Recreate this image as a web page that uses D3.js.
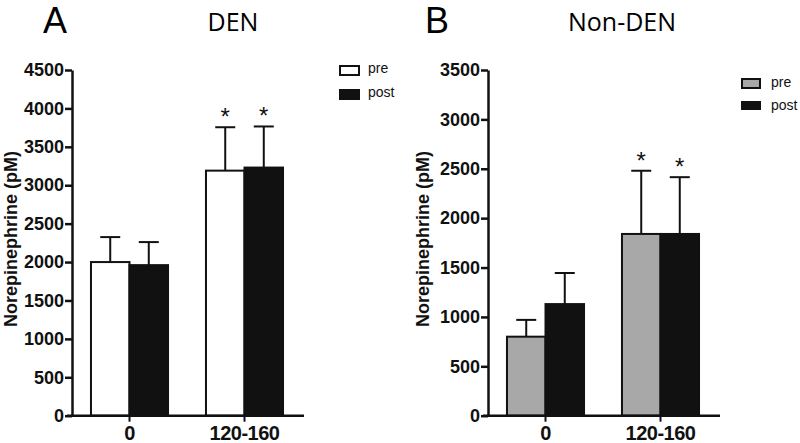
<!DOCTYPE html>
<html>
<head>
<meta charset="utf-8">
<script src="https://cdn.jsdelivr.net/npm/d3@7/dist/d3.min.js"></script>
<style>
  html, body { margin: 0; padding: 0; background: #fff; }
  svg { display: block; }
  .lib { font-family: "Liberation Sans", Arial, Helvetica, sans-serif; }
  .ttl { font-family: "Open Sans", "Liberation Sans", sans-serif; }
</style>
</head>
<body>
<svg id="chart" width="800" height="443"></svg>
<script>
// ---- data ----
const categories = ["0", "120-160"];
const seriesNames = ["pre", "post"];
const denPre = [2000, 3190];
const denPreSem = [325, 565];
const denPost = [1960, 3230];
const denPostSem = [300, 535];
const nonPre = [800, 1840];
const nonPreSem = [170, 640];
const nonPost = [1130, 1840];
const nonPostSem = [315, 575];
const denTicks = [0, 500, 1000, 1500, 2000, 2500, 3000, 3500, 4000, 4500];
const nonTicks = [0, 500, 1000, 1500, 2000, 2500, 3000, 3500];
const denSig = [false, true];
const nonSig = [false, true];

const svg = d3.select("#chart");

function panel(opt) {
  const g = svg.append("g");
  const y = d3.scaleLinear().domain([0, opt.yMax]).range([415.7, 70]);
  const x0 = d3.scaleBand().domain(categories).range([opt.ax, opt.ax + 230])
    .paddingInner(0.33).paddingOuter(0.165);
  const x1 = d3.scaleBand().domain(seriesNames).range([0, x0.bandwidth()]);

  const rows = [];
  categories.forEach((c, i) => {
    rows.push({cat: c, s: "pre", v: opt.pre[i], e: opt.preSem[i], sig: opt.sig[i]});
    rows.push({cat: c, s: "post", v: opt.post[i], e: opt.postSem[i], sig: opt.sig[i]});
  });
  const fill = {pre: opt.preFill, post: "#111111"};

  // error bars (up only)
  rows.forEach(d => {
    const cx = x0(d.cat) + x1(d.s) + x1.bandwidth() / 2;
    g.append("line").attr("x1", cx).attr("x2", cx)
      .attr("y1", y(d.v)).attr("y2", y(d.v + d.e))
      .attr("stroke", "#111").attr("stroke-width", 2);
    g.append("line").attr("x1", cx - 10).attr("x2", cx + 10)
      .attr("y1", y(d.v + d.e)).attr("y2", y(d.v + d.e))
      .attr("stroke", "#111").attr("stroke-width", 2);
    if (d.sig) {
      g.append("text").attr("class", "lib").attr("x", cx).attr("y", y(d.v + d.e) - 15 + 13)
        .attr("text-anchor", "middle")
        .attr("font-size", 24).attr("fill", "#111").text("*");
    }
  });

  // bars
  g.selectAll("rect.bar").data(rows).join("rect")
    .attr("class", "bar")
    .attr("x", d => x0(d.cat) + x1(d.s))
    .attr("y", d => y(d.v))
    .attr("width", x1.bandwidth())
    .attr("height", d => y(0) - y(d.v))
    .attr("fill", d => fill[d.s])
    .attr("stroke", "#111").attr("stroke-width", 2);

  // y axis
  const ya = g.append("g").attr("transform", `translate(${opt.ax},0)`)
    .call(d3.axisLeft(y).tickValues(opt.ticks).tickFormat(d3.format("d"))
      .tickSize(7).tickPadding(1).tickSizeOuter(0));
  ya.attr("font-family", null).attr("font-size", null);
  ya.select(".domain").attr("stroke", "#111").attr("stroke-width", 2.5);
  ya.selectAll(".tick line").attr("stroke", "#111").attr("stroke-width", 2.5);
  ya.selectAll(".tick text").attr("class", "lib").attr("font-size", 18)
    .attr("font-weight", "bold").attr("fill", "#111");

  // x axis
  const xa = g.append("g").attr("transform", `translate(0,${y(0)})`)
    .call(d3.axisBottom(x0).tickSize(6).tickPadding(4).tickSizeOuter(0));
  xa.attr("font-family", null).attr("font-size", null);
  xa.select(".domain").attr("stroke", "#111").attr("stroke-width", 2.5)
    .attr("d", `M${opt.ax - 5},0H${opt.ax + 232}`);
  xa.selectAll(".tick line").attr("stroke", "#111").attr("stroke-width", 2);
  xa.selectAll(".tick text").attr("class", "lib").attr("font-size", 20)
    .attr("font-weight", "bold").attr("fill", "#111").attr("letter-spacing", -0.5);

  // y title
  g.append("text").attr("class", "lib")
    .attr("transform", `translate(${opt.ytx},239) rotate(-90)`)
    .attr("text-anchor", "middle")
    .attr("font-size", 18).attr("font-weight", "bold").attr("fill", "#111")
    .text("Norepinephrine (pM)");

  // panel letter and title
  g.append("text").attr("class", "lib").attr("x", opt.letterX).attr("y", 33)
    .attr("text-anchor", "middle")
    .attr("font-size", 36).attr("fill", "#000").text(opt.letter);
  g.append("text").attr("class", "ttl").attr("x", opt.titleX).attr("y", 31)
    .attr("text-anchor", "middle")
    .attr("font-size", 25).attr("fill", "#000").text(opt.title);

  // legend
  seriesNames.forEach((s, i) => {
    const lg = opt.legend;
    g.append("rect").attr("x", lg.x).attr("y", lg.y[i])
      .attr("width", lg.w).attr("height", lg.h[i])
      .attr("fill", fill[s]).attr("stroke", "#111").attr("stroke-width", 2);
    g.append("text").attr("class", "lib").attr("x", lg.tx).attr("y", lg.ty[i])
      .attr("font-size", 14).attr("fill", "#111").text(s);
  });
}

panel({
  ax: 72, yMax: 4500, ticks: denTicks,
  pre: denPre, preSem: denPreSem, post: denPost, postSem: denPostSem, sig: denSig,
  preFill: "#ffffff", ytx: 17, letter: "A", letterX: 55, title: "DEN", titleX: 233,
  legend: {x: 340, y: [66, 90], w: 19, h: [9, 9], tx: 368, ty: [73, 97]}
});
panel({
  ax: 488, yMax: 3500, ticks: nonTicks,
  pre: nonPre, preSem: nonPreSem, post: nonPost, postSem: nonPostSem, sig: nonSig,
  preFill: "#a8a8a8", ytx: 429, letter: "B", letterX: 437, title: "Non-DEN", titleX: 622,
  legend: {x: 742, y: [79, 102], w: 18, h: [9, 7], tx: 771, ty: [87, 110]}
});
</script>
</body>
</html>
